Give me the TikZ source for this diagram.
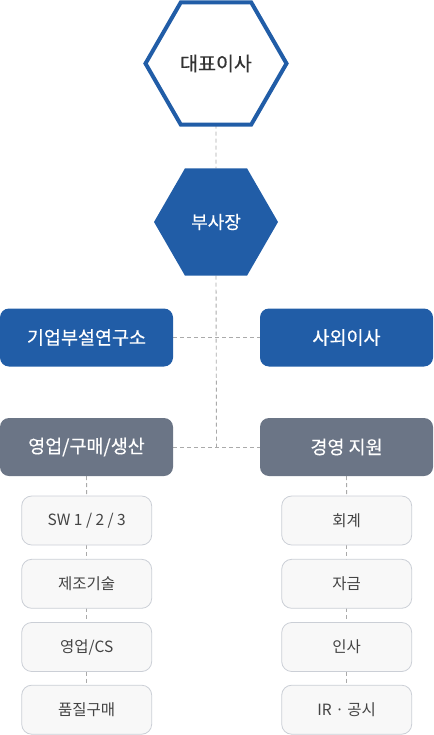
\documentclass[tikz,border=0pt]{standalone}
\usepackage{fontspec}
\setmainfont{Noto Sans CJK KR}
\newfontfamily\medfont[FakeBold=0.4]{Noto Sans CJK KR}
\usetikzlibrary{shapes.geometric,backgrounds}
\definecolor{cblue}{HTML}{215DA7}
\definecolor{cgrey}{HTML}{6B7586}
\definecolor{cline}{HTML}{AAAAAA}
\definecolor{csubfill}{HTML}{F8F8F8}
\definecolor{csubdraw}{HTML}{CBCFD6}
\definecolor{ctext}{HTML}{333333}
\definecolor{csubtext}{HTML}{444444}
\tikzset{
  hexo/.style={regular polygon, regular polygon sides=6, minimum size=141pt, inner sep=0pt, outer sep=0pt, draw=cblue, line width=4pt, fill=white, text=ctext, font=\medfont\fontsize{19.5}{22}\selectfont},
  hexf/.style={regular polygon, regular polygon sides=6, minimum size=124pt, inner sep=0pt, outer sep=0pt, fill=cblue, text=white, font=\medfont\fontsize{18}{21}\selectfont},
  bigbox/.style={rectangle, rounded corners=9pt, minimum width=173pt, minimum height=58pt, inner sep=0pt, outer sep=0pt, text=white, font=\medfont\fontsize{18.5}{21}\selectfont},
  bluebox/.style={bigbox, fill=cblue},
  greybox/.style={bigbox, fill=cgrey},
  subbox/.style={rectangle, rounded corners=10pt, minimum width=130pt, minimum height=49pt, inner sep=0pt, outer sep=0pt, fill=csubfill, draw=csubdraw, line width=0.8pt, text=csubtext, font=\fontsize{15.5}{18}\selectfont},
  conn/.style={draw=cline, line width=0.9pt, dash pattern=on 4pt off 3pt}
}
\begin{document}
\begin{tikzpicture}[x=1pt,y=-1pt]
\useasboundingbox (0,0) rectangle (433,735);
\node[hexo] (ceo) at (216,63.5) {대표이사};
\node[hexf] (vp) at (216,222) {부사장};
\node[bluebox] (lab) at (86.5,337.5) {기업부설연구소};
\node[bluebox] (outdir) at (346.5,337.5) {사외이사};
\node[greybox] (sales) at (86.5,447) {영업/구매/생산};
\node[greybox] (mgmt) at (346.5,447) {경영 지원};
\node[subbox] (s1) at (86.7,520.5) {SW 1 / 2 / 3};
\node[subbox] (s2) at (86.7,583.8) {제조기술};
\node[subbox] (s3) at (86.7,647) {영업/CS};
\node[subbox] (s4) at (86.7,709.7) {품질구매};
\node[subbox] (m1) at (346.7,520.5) {회계};
\node[subbox] (m2) at (346.7,583.8) {자금};
\node[subbox] (m3) at (346.7,647) {인사};
\node[subbox] (m4) at (346.7,709.7) {IR · 공시};
\coordinate (j) at (216.5,447);
\begin{scope}[on background layer]
\draw[conn] (ceo.south) -- (vp.north);
\draw[conn] (vp.south) -- (j);
\draw[conn] (lab.east) -- (outdir.west);
\draw[conn] (sales.east) -- (mgmt.west);
\draw[conn] (sales.south) -- (s1.north);
\draw[conn] (s1.south) -- (s2.north);
\draw[conn] (s2.south) -- (s3.north);
\draw[conn] (s3.south) -- (s4.north);
\draw[conn] (mgmt.south) -- (m1.north);
\draw[conn] (m1.south) -- (m2.north);
\draw[conn] (m2.south) -- (m3.north);
\draw[conn] (m3.south) -- (m4.north);
\end{scope}
\end{tikzpicture}
\end{document}
